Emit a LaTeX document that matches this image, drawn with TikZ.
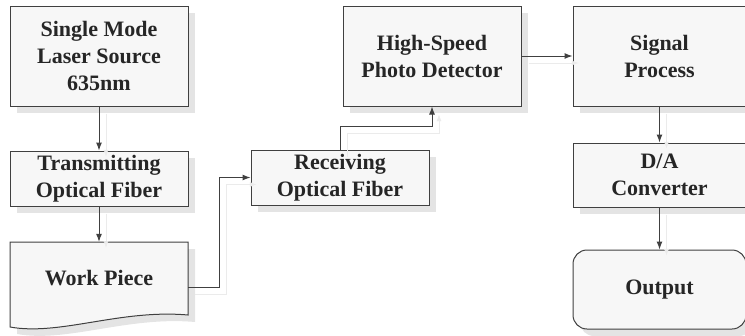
\documentclass[tikz,border=0pt]{standalone}
\usepackage{fontspec}
\setmainfont{Liberation Serif}
\usetikzlibrary{arrows.meta,calc,positioning,shadows}
\definecolor{ink}{HTML}{262626}
\definecolor{edge}{HTML}{404040}
\definecolor{boxfill}{HTML}{F7F7F7}
\definecolor{shade}{HTML}{E4E4E4}
\definecolor{faint}{HTML}{EBEBEB}
\tikzset{
  boxshadow/.style={drop shadow={shadow xshift=7pt,shadow yshift=-7pt,fill=shade,opacity=1}},
  basebox/.style={draw=edge,fill=boxfill,line width=1pt,align=center,text=ink,
    font=\bfseries\fontsize{22}{27}\selectfont,inner sep=0pt,boxshadow},
  docshape/.style={draw=edge,fill=boxfill,line width=1pt,boxshadow},
  arrow/.style={-{Latex[length=8pt,width=6pt]},line width=1pt,draw=edge,
    preaction={draw=faint,transform canvas={xshift=7pt,yshift=-7pt}}}
}

\begin{document}
\begin{tikzpicture}[x=1pt,y=-1pt,
    tall/.style={basebox,minimum width=178pt,minimum height=100pt},
    flat/.style={basebox,minimum width=178pt,minimum height=55pt},
    col/.style={basebox,minimum width=173pt}
  ]
  \useasboundingbox (0,0) rectangle (745,335);
  % left column
  \node[tall] (laser) at (99,56) {Single Mode\\Laser Source\\635nm};
  \node[flat,below=44pt of laser] (trans) {Transmitting\\Optical Fiber};
  \draw[docshape] (10,242) -- (188,242) -- (188,315)
    .. controls (120,309) and (60,336) .. (10,327) -- cycle;
  \node[font=\bfseries\fontsize{22}{27}\selectfont,text=ink,inner sep=0pt,
    minimum width=178pt,minimum height=73pt] (work) at (99,278.5) {Work Piece};
  % middle
  \node[flat] (recv) at (340,177.5) {Receiving\\Optical Fiber};
  \node[tall] (hspd) at (432,56) {High-Speed\\Photo Detector};
  % right column
  \node[col,minimum height=100pt,right=51pt of hspd] (sig) {Signal\\Process};
  \node[col,minimum height=64pt,below=36pt of sig] (da) {D/A\\Converter};
  \node[col,minimum height=79pt,rounded corners=14pt,below=42pt of da] (out) {Output};
  % connectors
  \draw[arrow] (laser) -- (trans);
  \draw[arrow] (trans) -- (work);
  \draw[arrow] ([yshift=-9pt]work.east) -- ++(31,0) |- (recv.west);
  \draw[arrow] (recv.north) -- ++(0,-23) -| (hspd.south);
  \draw[arrow] (hspd) -- (sig);
  \draw[arrow] (sig) -- (da);
  \draw[arrow] (da) -- (out);
\end{tikzpicture}
\end{document}
